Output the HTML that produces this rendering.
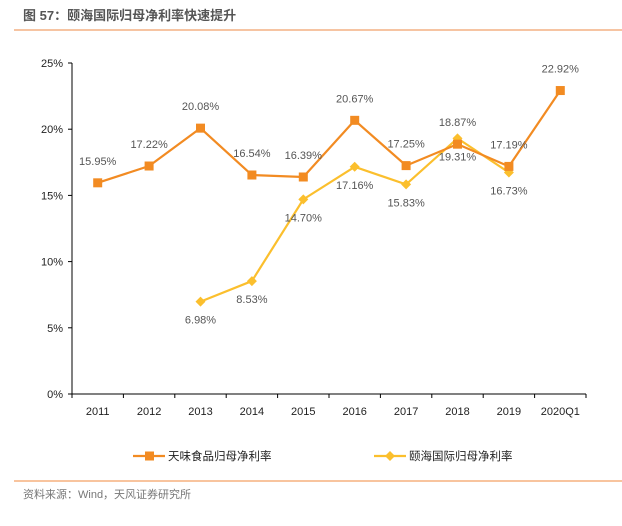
<!DOCTYPE html>
<html><head><meta charset="utf-8"><style>
body{margin:0;background:#fff;width:622px;height:521px;overflow:hidden;font-family:"Liberation Sans","Noto Sans CJK SC",sans-serif}
</style></head><body>
<svg width="622" height="521" xmlns="http://www.w3.org/2000/svg" font-family="Liberation Sans, Noto Sans CJK SC, sans-serif">
<text x="23" y="20" font-size="13" font-weight="bold" fill="#555">图 57：颐海国际归母净利率快速提升</text>
<line x1="14" y1="30" x2="622" y2="30" stroke="#f4b183" stroke-width="1.5"/>
<g id="chart"></g>
<line x1="14" y1="481" x2="622" y2="481" stroke="#f08a3c" stroke-width="1"/>
<text x="23" y="498" font-size="11" fill="#777">资料来源：Wind，天风证券研究所</text>
</svg>
<script>
const categories=["2011","2012","2013","2014","2015","2016","2017","2018","2019","2020Q1"];
const tianwei=[15.95,17.22,20.08,16.54,16.39,20.67,17.25,18.87,17.19,22.92];
const yihai=[null,null,6.98,8.53,14.70,17.16,15.83,19.31,16.73,null];
const yTicks=[0,5,10,15,20,25];
const seriesNames=["天味食品归母净利率","颐海国际归母净利率"];
const NS="http://www.w3.org/2000/svg";
const g=document.getElementById('chart');
const x0=72,x1=586,yb=394,yt=63;
const bw=(x1-x0)/categories.length;
const X=i=>x0+bw*(i+0.5);
const Y=v=>yb-(v/25)*(yb-yt);
function mk(t,a,p){const e=document.createElementNS(NS,t);for(const k in a)e.setAttribute(k,a[k]);(p||g).appendChild(e);return e;}
let e=mk('line',{x1:x0,y1:yt,x2:x0,y2:yb,stroke:'#000'});


yTicks.forEach(v=>{
 let t=mk('line',{x1:x0-4,y1:Y(v),x2:x0,y2:Y(v),stroke:'#000'});
 
 
 let l=mk('text',{x:x0-9,y:Y(v)+4,'text-anchor':'end','font-size':11,fill:'#222'});l.textContent=v+'%';
 
 
});
e=mk('line',{x1:x0,y1:yb,x2:x1,y2:yb,stroke:'#000'});


for(let i=0;i<=categories.length;i++){
 let t=mk('line',{x1:x0+bw*i,y1:yb,x2:x0+bw*i,y2:yb+4,stroke:'#000'});
 
 
}
categories.forEach((c,i)=>{
 let l=mk('text',{x:X(i),y:yb+21,'text-anchor':'middle','font-size':11,fill:'#222'});l.textContent=c;
 
 
});
function series(vals,color,shape,dy,name){
 const pts=vals.map((v,i)=>v==null?null:[X(i),Y(v)]).filter(p=>p);
 let p=mk('polyline',{points:pts.map(p=>p.join(',')).join(' '),fill:'none',stroke:color,'stroke-width':2.2});
 
 
 vals.forEach((v,i)=>{
  if(v==null)return;
  const x=X(i),y=Y(v);
  let m;
  if(shape==='sq')m=mk('rect',{x:x-4.5,y:y-4.5,width:9,height:9,fill:color});
  else m=mk('polygon',{points:`${x},${y-5} ${x+5},${y} ${x},${y+5} ${x-5},${y}`,fill:color});
  
  
  let l=mk('text',{x:x,y:y+dy,'text-anchor':'middle','font-size':11,fill:'#555'});l.textContent=v.toFixed(2)+'%';
  
  
 });
}
series(yihai,'#fbbf2d','dia',22,'yihai');
series(tianwei,'#f28b22','sq',-18,'tianwei');
[[0,'#f28b22','sq',133],[1,'#fbbf2d','dia',374]].forEach(([i,c,s,lx])=>{
 const ly=456;
 let ln=mk('line',{x1:lx,y1:ly,x2:lx+32,y2:ly,stroke:c,'stroke-width':2.2});
 
 
 let m=s==='sq'?mk('rect',{x:lx+12,y:ly-4.5,width:9,height:9,fill:c}):mk('polygon',{points:`${lx+16},${ly-5} ${lx+21},${ly} ${lx+16},${ly+5} ${lx+11},${ly}`,fill:c});
 
 
 let t=mk('text',{x:lx+35,y:ly+4,'font-size':11.5,fill:'#222'});t.textContent=seriesNames[i];
 
 
});
</script>
</body></html>
